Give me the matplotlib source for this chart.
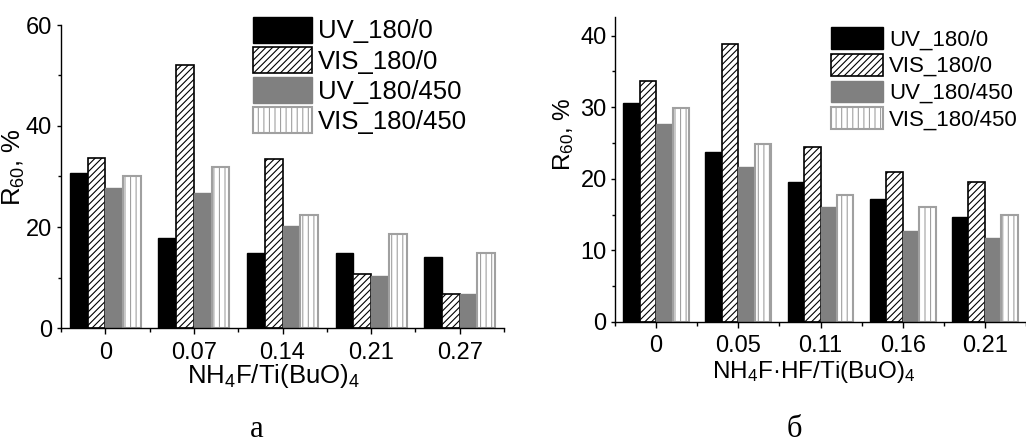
import matplotlib
matplotlib.use("Agg")
import matplotlib.pyplot as plt
import numpy as np
from matplotlib.ticker import MultipleLocator, FixedLocator

plt.rcParams['font.family'] = ['Liberation Sans', 'DejaVu Sans']
plt.rcParams['mathtext.fontset'] = 'custom'
plt.rcParams['mathtext.rm'] = 'Liberation Sans'
plt.rcParams['mathtext.it'] = 'Liberation Sans:italic'
plt.rcParams['mathtext.bf'] = 'Liberation Sans:bold'
plt.rcParams['hatch.linewidth'] = 0.8

series_names = ['UV_180/0', 'VIS_180/0', 'UV_180/450', 'VIS_180/450']

left_categories = ['0', '0.07', '0.14', '0.21', '0.27']
left_uv_180_0 = [30.6, 17.8, 14.9, 14.8, 14.0]
left_vis_180_0 = [33.7, 52.1, 33.5, 10.7, 6.7]
left_uv_180_450 = [27.7, 26.7, 20.1, 10.2, 6.7]
left_vis_180_450 = [30.0, 31.9, 22.4, 18.6, 14.9]

right_categories = ['0', '0.05', '0.11', '0.16', '0.21']
right_uv_180_0 = [30.6, 23.8, 19.6, 17.2, 14.7]
right_vis_180_0 = [33.6, 38.8, 24.5, 21.0, 19.6]
right_uv_180_450 = [27.7, 21.7, 16.1, 12.7, 11.7]
right_vis_180_450 = [29.9, 24.9, 17.7, 16.0, 14.9]

styles = [
    dict(facecolor='black', edgecolor='black', linewidth=1.0),
    dict(facecolor='white', edgecolor='black', hatch='/////', linewidth=1.2),
    dict(facecolor='#808080', edgecolor='#808080', linewidth=1.0),
    dict(facecolor='white', edgecolor='#a0a0a0', hatch='|||', linewidth=1.5),
]

W, H = 1026, 444
fig = plt.figure(figsize=(W / 100, H / 100), dpi=100)


def draw(rect, cats, series, ymax, major, minor, fs_tick, fs_lab, fs_leg, xlabel,
         ylab_xy, xlab_xy, leg_xy, handlelen, handleh, lspace, tpad, ypad, xpad):
    ax = fig.add_axes(rect)
    x = np.arange(len(cats))
    w = 0.2
    offs = [-0.3, -0.1, 0.1, 0.3]
    for vals, name, st, o in zip(series, series_names, styles, offs):
        ax.bar(x + o, vals, w, label=name, **st)
    ax.set_xlim(-0.5, len(cats) - 0.5)
    ax.set_ylim(0, ymax)
    ax.set_xticks(x)
    ax.set_xticklabels(cats)
    ax.xaxis.set_minor_locator(FixedLocator(np.arange(len(cats) + 1) - 0.5))
    ax.yaxis.set_major_locator(MultipleLocator(major))
    ax.yaxis.set_minor_locator(MultipleLocator(minor))
    for s in ['top', 'right']:
        ax.spines[s].set_visible(False)
    for s in ['left', 'bottom']:
        ax.spines[s].set_linewidth(1.0)
    ax.tick_params(axis='y', which='major', direction='out', length=3, width=1,
                   labelsize=fs_tick, pad=ypad)
    ax.tick_params(axis='y', which='minor', direction='out', length=2, width=1)
    ax.tick_params(axis='x', which='major', direction='out', length=4, width=1,
                   labelsize=fs_tick, pad=xpad)
    ax.tick_params(axis='x', which='minor', direction='out', length=3, width=1)
    ax.set_ylabel(r'R$_\mathregular{60}$, %', fontsize=fs_lab)
    ax.yaxis.set_label_coords(*ylab_xy)
    ax.set_xlabel(xlabel, fontsize=fs_lab)
    ax.xaxis.set_label_coords(*xlab_xy)
    ax.legend(loc='upper left', bbox_to_anchor=(leg_xy[0] / W, 1 - leg_xy[1] / H),
              bbox_transform=fig.transFigure, frameon=False, borderpad=0,
              borderaxespad=0, fontsize=fs_leg, handlelength=handlelen,
              handleheight=handleh, labelspacing=lspace, handletextpad=tpad)
    return ax


draw([61 / W, (H - 328) / H, 443 / W, 303 / H], left_categories,
     [left_uv_180_0, left_vis_180_0, left_uv_180_450, left_vis_180_450],
     60, 20, 10, 17, 18.5, 18.5, r'NH$_\mathregular{4}$F/Ti(BuO)$_\mathregular{4}$',
     (-0.076, 0.53), (0.48, -0.112), (253, 17), 2.3, 1.15, 0.14, 0.24, 3.5, 6)

draw([615 / W, (H - 322) / H, 411 / W, 305 / H], right_categories,
     [right_uv_180_0, right_vis_180_0, right_uv_180_450, right_vis_180_450],
     42.6, 10, 5, 17, 17.5, 16, r'NH$_\mathregular{4}$F·HF/Ti(BuO)$_\mathregular{4}$',
     (-0.095, 0.617), (0.484, -0.12), (831, 27), 2.34, 1.13, 0.15, 0.27, 3, 5)

fig.text(257 / W, 1 - 437 / H, 'а', family='Liberation Serif', fontsize=22,
         ha='center', va='baseline')
fig.text(794 / W, 1 - 437 / H, 'б', family='Liberation Serif', fontsize=22,
         ha='center', va='baseline')

fig.savefig('out.png', dpi=100)
